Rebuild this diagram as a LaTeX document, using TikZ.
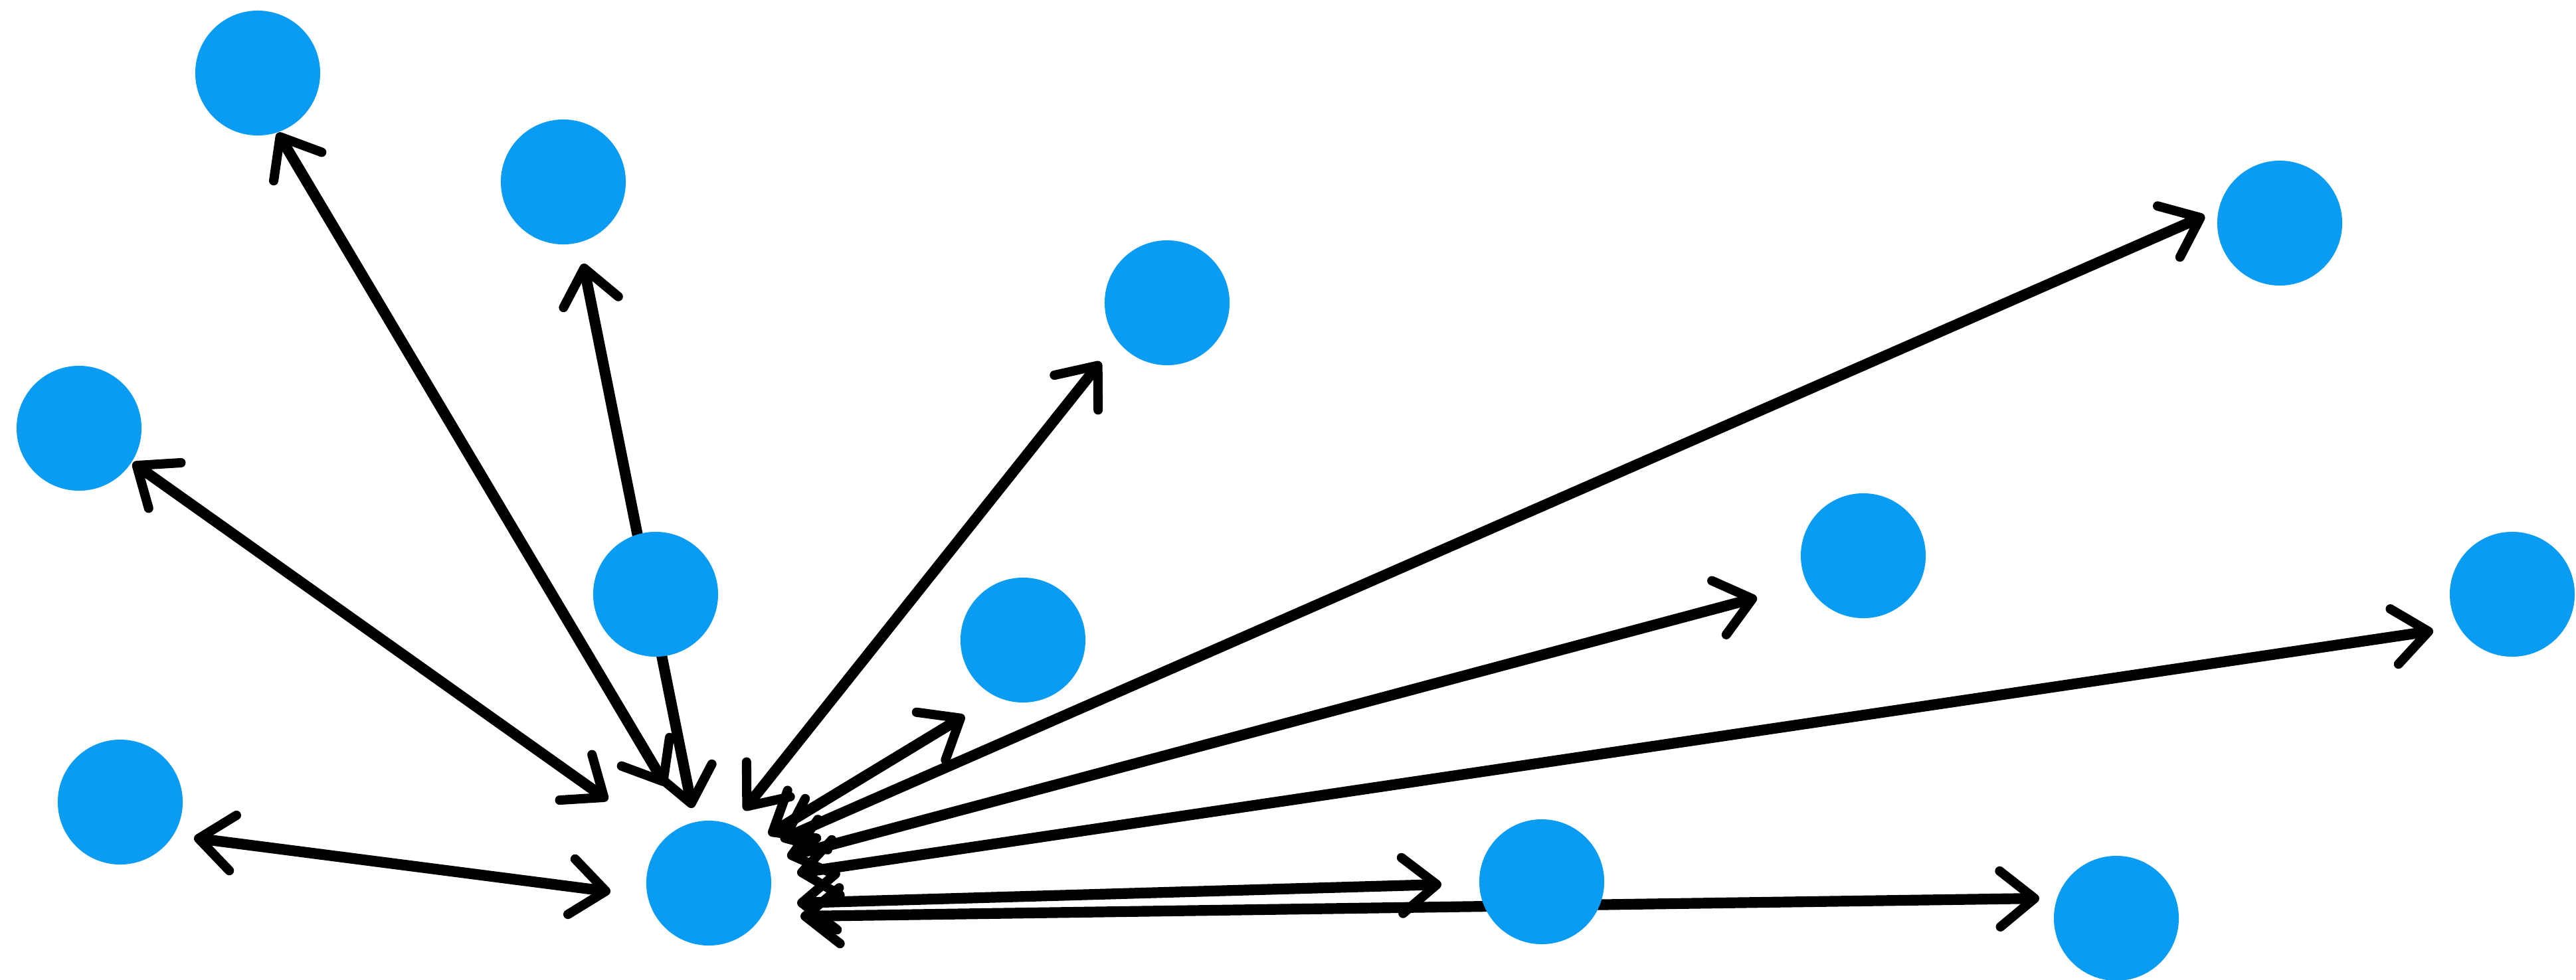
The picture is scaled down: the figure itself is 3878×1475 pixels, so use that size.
\documentclass[tikz,border=0pt]{standalone}
\usetikzlibrary{arrows.meta}
\definecolor{dotblue}{RGB}{9,156,242}
\tikzset{
  barb/.tip={Straight Barb[length=5.2mm,width=8.4mm,line width=4pt,round]},
  dot/.style={circle,fill=dotblue,draw=none,minimum size=1.88cm,inner sep=0pt},
  link/.style={line width=4.6pt,line cap=round,draw=black,barb-barb}
}
\begin{document}
\begin{tikzpicture}[x=0.01cm,y=-0.01cm]
\useasboundingbox (0,0) rectangle (3878,1475);
% connector end points (hub side: h*, outer side: e*)
\coordinate (h7) at (919,1343);   \coordinate (e7) at (292,1262);
\coordinate (h4) at (915,1205);   \coordinate (e4) at (200,697);
\coordinate (h1) at (1002,1183);  \coordinate (e1) at (418,200);
\coordinate (h2) at (1042,1217);  \coordinate (e2) at (878,397);
\coordinate (h3) at (1120,1220);  \coordinate (e3) at (1657,545);
\coordinate (h6) at (1157,1257);  \coordinate (e6) at (1452,1078);
\coordinate (h9) at (1175,1265);  \coordinate (e9) at (3319,325);
\coordinate (h10) at (1185,1290); \coordinate (e10) at (2645,900);
\coordinate (h11) at (1200,1315); \coordinate (e11) at (3663,950);
\coordinate (h12) at (1200,1360); \coordinate (e12) at (2170,1332);
\coordinate (h13) at (1205,1380); \coordinate (e13) at (3070,1353);
% connectors
\foreach \k in {7,4,1,2,3,6,9,10,11,12,13}{
  \draw[link] (h\k) -- (e\k);
}
% nodes
\node[dot] (h)   at (1067,1330) {};
\node[dot] (n1)  at (388,110) {};
\node[dot] (n2)  at (848,274) {};
\node[dot] (n3)  at (1757,456) {};
\node[dot] (n4)  at (119,645) {};
\node[dot] (n5)  at (987,895) {};
\node[dot] (n6)  at (1540,964) {};
\node[dot] (n7)  at (181,1208) {};
\node[dot] (n9)  at (3432,336) {};
\node[dot] (n10) at (2805,837) {};
\node[dot] (n11) at (3782,895) {};
\node[dot] (n12) at (2321,1328) {};
\node[dot] (n13) at (3186,1383) {};
\end{tikzpicture}
\end{document}
